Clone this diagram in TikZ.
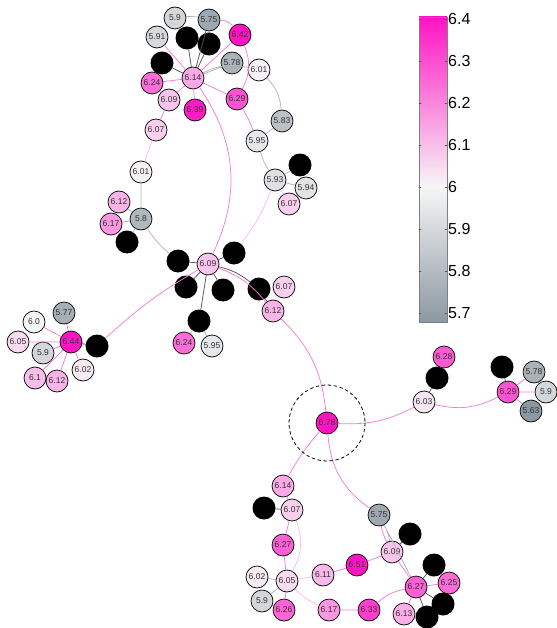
\documentclass[tikz,border=0pt]{standalone}
\usepackage{fontspec}
\setmainfont{Liberation Sans}
\definecolor{hi}{RGB}{255,20,195}
\definecolor{mid}{RGB}{246,246,246}
\definecolor{lo}{RGB}{140,152,162}
\definecolor{edgepink}{RGB}{245,125,212}
\definecolor{edgegray}{RGB}{180,180,188}
\definecolor{edgedark}{RGB}{85,85,90}
\begin{document}
\begin{tikzpicture}[line cap=round, line join=round, x=1pt, y=-1pt, font=\fontsize{8.5}{9}\selectfont]
	\tikzset{nd/.style={circle, draw=black, line width=0.7pt, minimum size=22pt, inner sep=0pt, text=black!80},
		bk/.style={circle, fill=black, minimum size=23pt, inner sep=0pt},
		pe/.style={draw=edgepink, line width=0.75pt},
		pl/.style={draw=edgepink!50, line width=0.75pt},
		ge/.style={draw=edgegray, line width=0.75pt},
		de/.style={draw=edgedark, line width=0.75pt}}
	\useasboundingbox (0,0) rectangle (556,628);
	% valued nodes
	\foreach \nm/\px/\py/\v in {a59/175/18/5.9, a575/209/20/5.75, a591/157/37/5.91, a642/240/35/6.42,
		a578/232/63/5.78, a601/259/70/6.01, a614/193/78/6.14, a624/152/83/6.24, a609/169/100/6.09,
		a639/195/110/6.39, a629/237/99/6.29, a583/282/121/5.83, a607/156/130/6.07, a595/257/141/5.95,
		b601/141/172/6.01, b593/275/180/5.93, b594/306/188/5.94, b607/289/204/6.07, b612/119/202/6.12,
		b617/111/224/6.17, b58/141/219/5.8,
		c609/208/264/6.09, c607/284/287/6.07, c612/273/311/6.12, c624/184/343/6.24, c595/212/346/5.95,
		d644/71/342/6.44, d577/64/313/5.77, d60/34/322/6.0, d605/18/342/6.05, d59/43/353/5.9,
		d602/83/370/6.02, d61/35/378/6.1, d612/57/381/6.12,
		e678/327/423/6.78, e603/424/402/6.03, e628/444/357/6.28, e629/508/392/6.29, e578/534/372/5.78,
		e59/546/392/5.9, e563/531/411/5.63,
		f614/283/486/6.14, f607/292/510/6.07, f627/283/545/6.27, f602/257/577/6.02, f605/287/581/6.05,
		f59/262/601/5.9, f626/284/610/6.26, f611/323/575/6.11, f617/329/610/6.17, f651/357/565/6.51,
		f633/369/610/6.33, f575/379/515/5.75, f609/392/552/6.09,
		g627/416/587/6.27, g625/449/583/6.25, g613/404/614/6.13}{
		\ifdim\v pt<6pt \def\nc{lo}\pgfmathtruncatemacro\pc{min(100,(6-\v)*333.4)}%
		\else \def\nc{hi}\pgfmathtruncatemacro\pc{min(100,(\v-6)*250)}\fi
		\node[nd, fill=\nc!\pc!mid] (\nm) at (\px,\py) {\v};
	}
	% black nodes
	\foreach \nm/\px/\py in {k1/187/38, k2/209/44, k3/162/63, k4/300/165, k5/127/242, k6/178/261,
		k7/234/253, k8/186/287, k9/223/290, k10/259/289, k11/199/321, k12/97/346, k13/437/378,
		k14/502/367, k15/264/508, k16/410/534, k17/434/565, k18/443/604, k19/427/617}
		\node[bk] (\nm) at (\px,\py) {};
	% top cluster
	\draw[ge] (a59) to[bend left=10] (a575);
	\draw[pe] (a575) to[bend left=25] (a642) (a614) -- (a642) (a614) -- (a624) (a614) -- (a609)
		(a614) -- (a639) (a614) -- (a629) (a614) -- (a591) (a642) to[bend left=25] (a629)
		(a629) to[bend left=5] (a595) (a609) -- (a607) (a614) to[bend left=30] (c609);
	\draw[de] (a614) -- (k1) (a614) -- (k2) (a614) -- (k3) (a614) -- (a575);
	\draw[ge] (a614) -- (a578) (a614) to[bend left=20] (a601) (a601) to[bend left=20] (a583)
		(a583) -- (a595) (a595) to[bend right=8] (b593) (b593) -- (k4) (b593) -- (b594);
	\draw[pl] (b593) -- (b607) (b593) to[bend left=8] (k7) (a607) -- (b601);
	\draw[ge] (b601) -- (b58) (b58) -- (b612) (b58) -- (k5) (b58) to[bend right=8] (k6);
	\draw[pe] (b58) -- (b617);
	% middle cluster
	\draw[de] (k6) -- (c609) (c609) -- (k7) (c609) -- (k8) (c609) -- (k9) (c609) -- (k11)
		(c609) to[bend left=12] (k10) (k10) -- (c612);
	\draw[pe] (c609) to[bend left=15] (c612) (c612) to[bend left=20] (e678)
		(c609) to[bend right=6] (k12) (k11) -- (c624);
	\draw[ge] (k11) -- (c595);
	% left cluster
	\draw[pe] (d644) -- (d577) (d644) -- (d60) (d644) -- (d605) (d644) -- (d59) (d644) -- (d602)
		(d644) -- (d61) (d644) -- (d612);
	\draw[de] (d644) -- (k12);
	% right cluster
	\draw[pe] (e678) to[bend right=15] (e603) (e603) to[bend right=20] (e629)
		(e629) -- (e578) (e629) -- (e59) (e629) -- (e563);
	\draw[de] (e603) -- (k13) (k13) -- (e628) (e629) -- (k14);
	% bottom cluster
	\draw[pe] (e678) to[bend right=6] (f614) (e678) to[bend right=25] (f575) (f614) -- (f607)
		(f607) -- (f627) (f627) -- (f605) (f605) -- (f626) (f611) -- (f651) (f651) -- (f609)
		(f617) -- (f633) (f633) to[bend left=15] (g627) (f609) -- (g627) (f575) to[bend right=8] (f609)
		(g627) -- (g625) (g627) -- (g613);
	\draw[pl] (f607) to[bend left=25] (f605) (f605) -- (f611) (f605) to[bend right=10] (f617);
	\draw[ge] (f605) -- (f602) (f605) -- (f59) (f575) to[bend left=8] (f609) (f575) -- (g627);
	\draw[de] (f607) -- (k15) (f609) -- (k16) (g627) -- (k17) (g627) -- (k18) (g627) -- (k19);
	\draw[dashed, line width=0.8pt] (e678) circle (38);
	% colour bar
	\shade[top color=hi, bottom color=mid] (419,17) rectangle (447,187);
	\shade[top color=mid, bottom color=lo] (419,187) rectangle (447,322);
	\draw[gray, line width=0.6pt] (419,17) rectangle (447,322);
	\foreach \v [count=\i] in {5.7,5.8,5.9,6,6.1,6.2,6.3,6.4}{
		\pgfmathsetmacro\ty{187.3-(\v-6)*420}
		\draw[gray!70!black, line width=0.5pt] (419,\ty) -- (421,\ty) (445,\ty) -- (447,\ty);
		\node[right, inner sep=1pt, font=\fontsize{16}{18}\selectfont] (cb\i) at (447,\ty) {\v};
	}
\end{tikzpicture}
\end{document}
